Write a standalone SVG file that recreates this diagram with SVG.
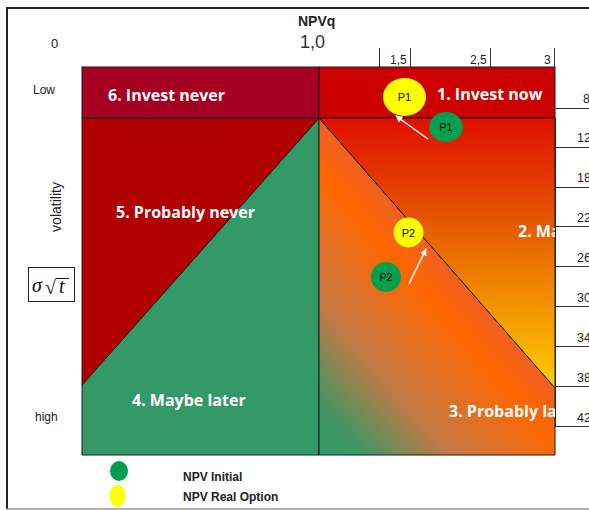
<svg xmlns="http://www.w3.org/2000/svg" width="589" height="510" viewBox="0 0 589 510">
<style>
.lbl{font-family:"Open Sans","Liberation Sans",sans-serif;font-weight:bold;font-size:16px;fill:#fff}
.ax{font-family:"Liberation Sans","DejaVu Sans",sans-serif;font-size:12px;fill:#222}
.tbl{font-family:"Liberation Sans","DejaVu Sans",sans-serif;font-size:12.5px;fill:#222}
.pt{font-family:"Liberation Sans",sans-serif;font-size:11px;fill:#000;text-anchor:middle}
.leg{font-family:"Liberation Sans",sans-serif;font-weight:bold;font-size:12px;fill:#222}
.tl{stroke:#333;stroke-width:1}
.arrow{stroke:#fff;stroke-width:1.5;fill:none;marker-end:url(#ah)}
</style>
<defs>
<marker id="ah" viewBox="0 0 10 10" refX="9" refY="5" markerWidth="7" markerHeight="7" orient="auto" markerUnits="userSpaceOnUse">
<path d="M0,0 L10,5 L0,10 z" fill="#fff"/>
</marker>
<linearGradient id="gUp" gradientUnits="userSpaceOnUse" x1="0" y1="118" x2="0" y2="388">
<stop offset="0" stop-color="#E00E00"/>
<stop offset="0.45" stop-color="#E86400"/>
<stop offset="1" stop-color="#FFCC00"/>
</linearGradient>
<linearGradient id="gLow" gradientUnits="userSpaceOnUse" x1="319" y1="455" x2="487" y2="308">
<stop offset="0" stop-color="#339966"/>
<stop offset="0.15" stop-color="#3E9663"/>
<stop offset="0.45" stop-color="#C47944"/>
<stop offset="0.84" stop-color="#FF6600"/>
<stop offset="1" stop-color="#EF5F24"/>
</linearGradient>
<clipPath id="clipR"><rect x="0" y="0" width="555" height="510"/></clipPath>
</defs>

<rect width="589" height="510" fill="#fff"/>
<!-- frame -->
<path d="M7,509 L7,8 L589,8" fill="none" stroke="#222" stroke-width="2"/>
<line x1="7" y1="509" x2="589" y2="509" stroke="#999" stroke-width="1.5"/>

<!-- axes labels -->
<g id="axis-top">
<text x="298" y="26" style="font-family:'Liberation Sans',sans-serif;font-weight:bold;font-size:14px;fill:#222">NPVq</text>
<text x="300" y="48" style="font-family:'Liberation Sans',sans-serif;font-size:18px;fill:#333">1,0</text>
<text x="51" y="48" style="font-family:'Liberation Sans',sans-serif;font-size:13px;fill:#222">0</text>
<line class="tl" x1="379.5" y1="48" x2="379.5" y2="67"/>
<line class="tl" x1="410.5" y1="48" x2="410.5" y2="67"/>
<line class="tl" x1="490.5" y1="48" x2="490.5" y2="67"/>
<line class="tl" x1="554.5" y1="48" x2="554.5" y2="67"/>
<text class="ax" x="390" y="64">1,5</text>
<text class="ax" x="470" y="64">2,5</text>
<text class="ax" x="544" y="64">3</text>
</g>

<g id="axis-left">
<text class="ax" x="33" y="94">Low</text>
<text class="ax" x="35" y="421">high</text>
<text x="0" y="0" transform="translate(61,207) rotate(-90)" text-anchor="middle" style="font-family:'Liberation Sans',sans-serif;font-size:14px;fill:#222">volatility</text>
<g id="sigma-box">
<rect x="28.5" y="267.5" width="46" height="34" fill="#fff" stroke="#222" stroke-width="1"/>
<text x="32" y="292" style="font-family:'Liberation Serif',serif;font-style:italic;font-size:20px;fill:#111">σ</text>
<text x="45" y="294" style="font-family:'Liberation Serif',serif;font-size:20px;fill:#111">√</text>
<line x1="56" y1="278.5" x2="69" y2="278.5" stroke="#111" stroke-width="1"/>
<text x="59" y="293" style="font-family:'Liberation Serif',serif;font-style:italic;font-size:20px;fill:#111">t</text>
</g>
</g>

<!-- right table -->
<g id="table-right">
<line class="tl" x1="555.5" y1="108.5" x2="589" y2="108.5"/>
<line class="tl" x1="555.5" y1="118" x2="555.5" y2="427"/>
<line class="tl" x1="555.5" y1="147.5" x2="589" y2="147.5"/>
<line class="tl" x1="555.5" y1="187.5" x2="589" y2="187.5"/>
<line class="tl" x1="555.5" y1="226.5" x2="589" y2="226.5"/>
<line class="tl" x1="555.5" y1="266.5" x2="589" y2="266.5"/>
<line class="tl" x1="555.5" y1="306.5" x2="589" y2="306.5"/>
<line class="tl" x1="555.5" y1="346.5" x2="589" y2="346.5"/>
<line class="tl" x1="555.5" y1="386.5" x2="589" y2="386.5"/>
<line class="tl" x1="555.5" y1="426.5" x2="589" y2="426.5"/>
<text class="tbl" x="583" y="103">8</text>
<text class="tbl" x="577" y="142">12</text>
<text class="tbl" x="577" y="182">18</text>
<text class="tbl" x="577" y="222">22</text>
<text class="tbl" x="577" y="262">26</text>
<text class="tbl" x="577" y="302">30</text>
<text class="tbl" x="577" y="342">34</text>
<text class="tbl" x="577" y="382">38</text>
<text class="tbl" x="577" y="422">42</text>
</g>

<!-- regions -->
<g id="r6-invest-never">
<rect x="82" y="67" width="237" height="51" fill="#A50021" stroke="#1a1a1a" stroke-width="1"/>
<text class="lbl" x="108" y="101">6. Invest never</text>
</g>
<g id="r1-invest-now">
<rect x="319" y="67" width="236" height="51" fill="#CC0000" stroke="#1a1a1a" stroke-width="1"/>
<text class="lbl" x="437" y="100">1. Invest now</text>
</g>
<g id="r4-maybe-later">
<polygon points="319,118 319,455 82,455 82,385" fill="#339966" stroke="#1a1a1a" stroke-width="1"/>
<text class="lbl" x="132" y="406">4. Maybe later</text>
</g>
<g id="r5-probably-never">
<polygon points="82,118 319,118 82,385" fill="#B00000" stroke="#1a1a1a" stroke-width="1"/>
<text class="lbl" x="116" y="218">5. Probably never</text>
</g>
<g id="r3-probably-later">
<polygon points="319,118 555,388 555,455 319,455" fill="url(#gLow)" stroke="#1a1a1a" stroke-width="1"/>
<text class="lbl" x="449" y="417" clip-path="url(#clipR)">3. Probably la</text>
</g>
<g id="r2-maybe">
<polygon points="319,118 555,118 555,388" fill="url(#gUp)" stroke="#1a1a1a" stroke-width="1"/>
<text class="lbl" x="518" y="237" clip-path="url(#clipR)">2. Ma</text>
</g>

<!-- points -->
<g id="p1-real">
<ellipse cx="404.5" cy="97" rx="21.5" ry="19" fill="#FFFF00"/>
<text class="pt" x="404.5" y="101">P1</text>
</g>
<g id="p1-initial">
<ellipse cx="446" cy="127" rx="17" ry="15" fill="#00A050"/>
<text class="pt" x="446" y="131">P1</text>
</g>
<g id="p2-real">
<circle cx="408.5" cy="232.5" r="15" fill="#FFFF00"/>
<text class="pt" x="408.5" y="236.5">P2</text>
</g>
<g id="p2-initial">
<circle cx="386" cy="277" r="15" fill="#00A050"/>
<text class="pt" x="386" y="281">P2</text>
</g>

<g id="connectors">
<line class="arrow" x1="428" y1="139" x2="396" y2="116"/>
<line class="arrow" x1="409" y1="284" x2="426" y2="249"/>
</g>

<!-- legend -->
<g id="legend">
<ellipse cx="119" cy="471" rx="9" ry="10" fill="#00A050"/>
<ellipse cx="117.5" cy="496" rx="8" ry="11" fill="#FFFF00"/>
<text class="leg" x="183" y="481">NPV Initial</text>
<text class="leg" x="183" y="501">NPV Real Option</text>
</g>
</svg>
